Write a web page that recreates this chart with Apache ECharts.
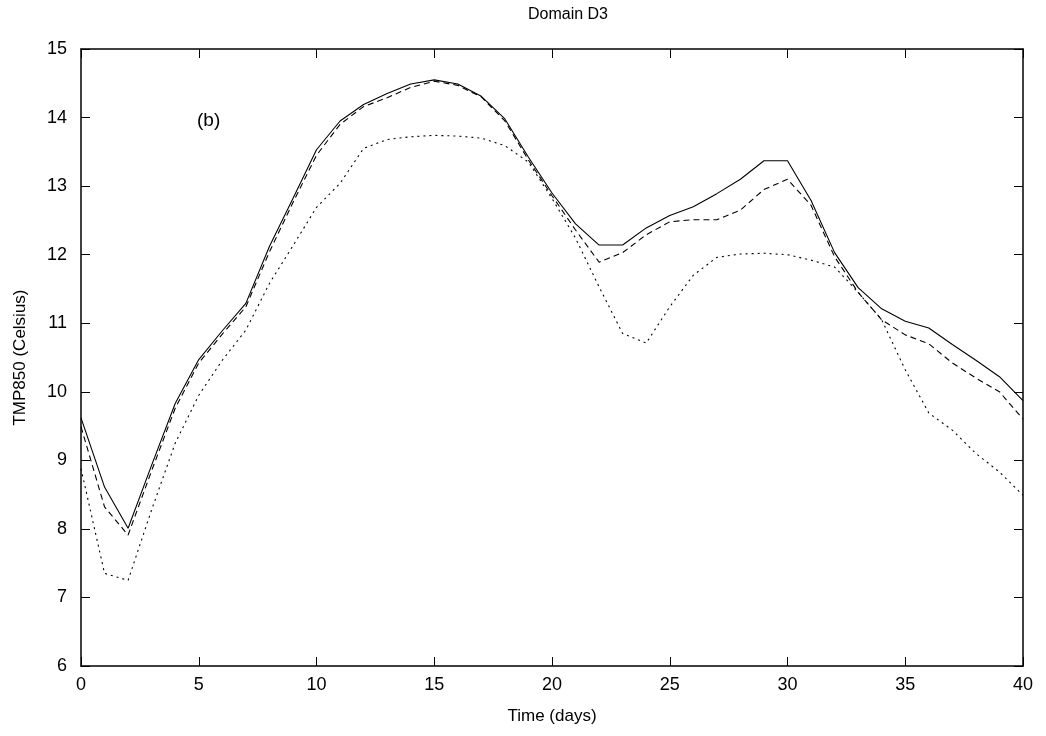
<!DOCTYPE html>
<html>
<head>
<meta charset="utf-8">
<script src="https://cdn.jsdelivr.net/npm/echarts@6/dist/echarts.min.js"></script>
<style>
html,body{margin:0;padding:0;background:#fff;}
#chart{width:1046px;height:736px;}
</style>
</head>
<body>
<div id="chart"></div>
<script>
const days = Array.from({length: 41}, (_, i) => i);
const solidSeries = [9.62, 8.61, 8.01, 8.93, 9.83, 10.47, 10.89, 11.29, 12.12, 12.82,
  13.53, 13.95, 14.19, 14.35, 14.49, 14.55, 14.49, 14.31, 13.98, 13.42,
  12.90, 12.45, 12.14, 12.14, 12.39, 12.57, 12.70, 12.89, 13.10, 13.37,
  13.37, 12.79, 12.03, 11.52, 11.21, 11.03, 10.93, 10.69, 10.46, 10.22, 9.87];
const dashedSeries = [9.49, 8.32, 7.91, 8.85, 9.76, 10.42, 10.84, 11.24, 12.04, 12.76,
  13.45, 13.90, 14.16, 14.29, 14.44, 14.53, 14.47, 14.30, 13.95, 13.38,
  12.86, 12.36, 11.89, 12.03, 12.29, 12.48, 12.51, 12.51, 12.65, 12.95,
  13.10, 12.72, 11.97, 11.45, 11.05, 10.83, 10.70, 10.42, 10.20, 10.00, 9.60];
const dottedSeries = [8.88, 7.35, 7.25, 8.28, 9.25, 9.95, 10.46, 10.90, 11.58, 12.13,
  12.69, 13.04, 13.55, 13.68, 13.72, 13.74, 13.73, 13.70, 13.59, 13.35,
  12.82, 12.24, 11.53, 10.85, 10.71, 11.24, 11.70, 11.96, 12.01, 12.02,
  12.00, 11.92, 11.82, 11.45, 11.05, 10.32, 9.69, 9.44, 9.10, 8.83, 8.49];
const titleText = 'Domain D3';
const xName = 'Time (days)';
const yName = 'TMP850 (Celsius)';
const panelLabel = '(b)';

const FONT = '"Liberation Sans", Arial, sans-serif';
const chart = echarts.init(document.getElementById('chart'));
const pair = (arr) => days.map((d, i) => [d, arr[i]]);
const tickInside = {show: true, inside: true, length: 9, lineStyle: {color: '#000', width: 1}};
const axisLine = {show: true, onZero: false, lineStyle: {color: '#000', width: 1.5}};

chart.setOption({
  animation: false,
  backgroundColor: '#fff',
  title: {
    text: titleText, left: 563, top: 2, textAlign: 'center',
    textStyle: {fontFamily: FONT, fontSize: 16, fontWeight: 'normal', color: '#000'}
  },
  grid: {left: 81, right: 23, top: 49, bottom: 70, containLabel: false},
  xAxis: [{
    type: 'value', min: 0, max: 40, interval: 5, position: 'bottom',
    name: xName, nameLocation: 'middle', nameGap: 42,
    nameTextStyle: {fontFamily: FONT, fontSize: 17, color: '#000'},
    axisLine: axisLine, axisTick: tickInside, splitLine: {show: false},
    axisLabel: {fontFamily: FONT, fontSize: 18, color: '#000', margin: 10}
  }, {
    type: 'value', min: 0, max: 40, interval: 5, position: 'top',
    axisLine: axisLine, axisTick: tickInside, splitLine: {show: false},
    axisLabel: {show: false}
  }],
  yAxis: [{
    type: 'value', min: 6, max: 15, interval: 1, position: 'left',
    name: yName, nameLocation: 'middle', nameGap: 52, nameRotate: 90,
    nameTextStyle: {fontFamily: FONT, fontSize: 17, color: '#000'},
    axisLine: axisLine, axisTick: tickInside, splitLine: {show: false},
    axisLabel: {fontFamily: FONT, fontSize: 18, color: '#000', margin: 14}
  }, {
    type: 'value', min: 6, max: 15, interval: 1, position: 'right',
    axisLine: axisLine, axisTick: tickInside, splitLine: {show: false},
    axisLabel: {show: false}
  }],
  graphic: [{
    type: 'text', left: 197, top: 111,
    style: {text: panelLabel, font: '19px ' + FONT, fill: '#000'}
  }],
  series: [{
    type: 'line', data: pair(solidSeries), showSymbol: false, symbol: 'none',
    lineStyle: {color: '#000', width: 1.1, type: 'solid'}
  }, {
    type: 'line', data: pair(dashedSeries), showSymbol: false, symbol: 'none',
    lineStyle: {color: '#000', width: 1.1, type: [6, 4]}
  }, {
    type: 'line', data: pair(dottedSeries), showSymbol: false, symbol: 'none',
    lineStyle: {color: '#000', width: 1.1, type: [2, 4]}
  }]
});
</script>
</body>
</html>
